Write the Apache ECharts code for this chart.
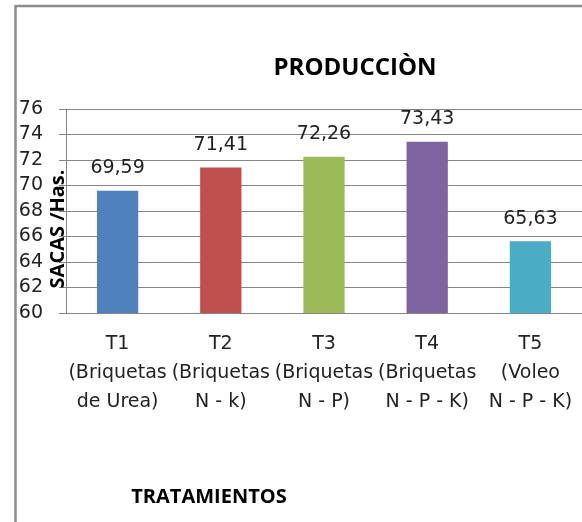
<!DOCTYPE html>
<html>
<head>
<meta charset="utf-8">
<script src="https://cdn.jsdelivr.net/npm/echarts@6/dist/echarts.min.js"></script>
<style>
html,body{margin:0;padding:0;background:#fff;}
#c{width:582px;height:522px;}
</style>
</head>
<body>
<div id="c"></div>
<script>
var titleText = 'PRODUCCIÒN';
var categories = [
  'T1\n(Briquetas\nde Urea)',
  'T2\n(Briquetas\nN - k)',
  'T3\n(Briquetas\nN - P)',
  'T4\n(Briquetas\nN - P - K)',
  'T5\n(Voleo\nN - P - K)'
];
var values = [69.59, 71.41, 72.26, 73.43, 65.63];
var barColors = ['#4F81BD', '#C0504D', '#9BBB59', '#8064A2', '#4BACC6'];
var yName = 'SACAS /Has.';
var xName = 'TRATAMIENTOS';
var yMin = 60, yMax = 76, yStep = 2;

var chart = echarts.init(document.getElementById('c'), null, {renderer: 'canvas'});
var gridColor = '#868686';
chart.setOption({
  animation: false,
  backgroundColor: '#fff',
  title: {
    text: titleText,
    left: 350,
    top: 51,
    textAlign: 'center',
    textStyle: {fontFamily: 'Open Sans', fontWeight: 'bold', fontSize: 24, color: '#000'}
  },
  grid: {left: 66, top: 109, width: 518, height: 204, containLabel: false},
  xAxis: {
    type: 'category',
    data: categories,
    axisLine: {show: true, lineStyle: {color: gridColor, width: 1}},
    axisTick: {show: false},
    axisLabel: {
      interval: 0,
      margin: 17,
      fontFamily: 'DejaVu Sans',
      fontSize: 19,
      lineHeight: 29,
      color: '#222',
      align: 'center'
    }
  },
  yAxis: {
    type: 'value',
    min: yMin, max: yMax, interval: yStep,
    axisLine: {show: true, lineStyle: {color: gridColor, width: 1}},
    axisTick: {show: true, length: 7, inside: false, lineStyle: {color: gridColor}},
    splitLine: {show: true, lineStyle: {color: gridColor, width: 1}},
    axisLabel: {margin: 23, fontFamily: 'DejaVu Sans', fontSize: 19, color: '#222'}
  },
  series: [{
    type: 'bar',
    barWidth: '40%',
    data: values.map(function (v, i) {
      return {value: v, itemStyle: {color: barColors[i]}};
    }),
    label: {
      show: true,
      position: 'top',
      distance: 13,
      fontFamily: 'DejaVu Sans',
      fontSize: 19,
      color: '#222',
      formatter: function (p) { return p.value.toFixed(2).replace('.', ','); }
    }
  }],
  graphic: [
    {type: 'line', shape: {x1: 15.5, y1: 6, x2: 582, y2: 6}, style: {stroke: '#8c8c8c', lineWidth: 2.5}, z: 100},
    {type: 'line', shape: {x1: 15.5, y1: 5, x2: 15.5, y2: 522}, style: {stroke: '#8c8c8c', lineWidth: 2.5}, z: 100},
    {type: 'text', x: 58, y: 229, rotation: Math.PI / 2,
      style: {text: yName, fontFamily: 'Open Sans', fontWeight: 'bold', fontSize: 20, fill: '#000', textAlign: 'center', textVerticalAlign: 'middle'}, z: 100},
    {type: 'text', x: 209, y: 497,
      style: {text: xName, fontFamily: 'Open Sans', fontWeight: 'bold', fontSize: 20, fill: '#000', textAlign: 'center', textVerticalAlign: 'middle'}, z: 100}
  ]
});
</script>
</body>
</html>
